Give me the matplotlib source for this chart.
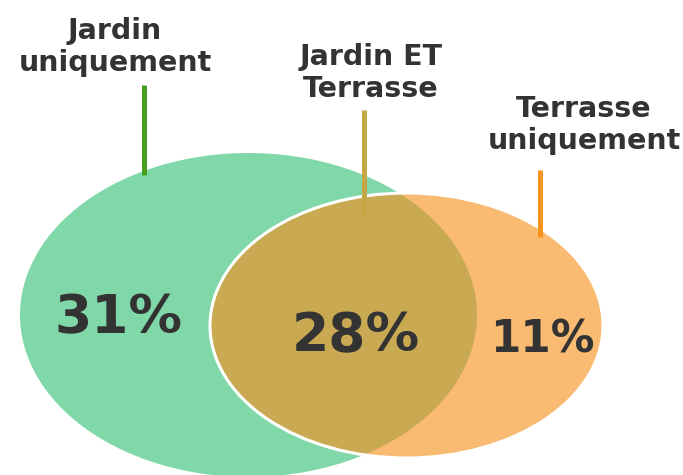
import matplotlib
matplotlib.use("Agg")
import matplotlib.pyplot as plt
from matplotlib.patches import Ellipse

# data
group_labels = ["Jardin\nuniquement", "Jardin ET\nTerrasse", "Terrasse\nuniquement"]
shares = [31, 28, 11]

green_fill = "#80D8A8"
orange_fill = "#F9BA72"
both_fill = "#C9A952"
line_colors = ["#4A9E1F", "#C4A645", "#F7941D"]
text_color = "#333333"

fig = plt.figure(figsize=(6.83, 4.75), dpi=100)
ax = fig.add_axes([0, 0, 1, 1])
ax.set_xlim(0, 683)
ax.set_ylim(475, 0)
ax.axis("off")

# the two sets (pixel coords of the picture)
green = Ellipse((248.5, 315), 457, 324, facecolor=green_fill, edgecolor="none")
ax.add_patch(green)
orange = Ellipse((406.5, 325.5), 393, 265, facecolor=orange_fill, edgecolor="none")
ax.add_patch(orange)
both = Ellipse((406.5, 325.5), 393, 265, facecolor=both_fill, edgecolor="none")
ax.add_patch(both)
both.set_clip_path(green)
ax.add_patch(Ellipse((406.5, 325.5), 393, 265, fill=False, edgecolor="white", lw=2.2))

# labels with their leader lines
label_pos = [(115, 47), (371, 73), (584, 125)]
line_pos = [(144, 85, 175), (364, 110, 215), (540, 170, 237)]
for lab, (x, y), (lx, y0, y1), c in zip(group_labels, label_pos, line_pos, line_colors):
    ax.text(x, y, lab, ha="center", va="center", fontsize=20.5,
            fontweight="bold", color=text_color, linespacing=1.2)
    ax.plot([lx, lx], [y0, y1], color=c, lw=3.6, solid_capstyle="butt")

# percentages
value_pos = [(119, 318), (356, 336), (542, 340)]
value_size = [38.5, 38.5, 31.5]
for v, (x, y), fs in zip(shares, value_pos, value_size):
    ax.text(x, y, f"{v}%", ha="center", va="center", fontsize=fs,
            fontweight="bold", color=text_color)

fig.savefig("out.png", dpi=100)
